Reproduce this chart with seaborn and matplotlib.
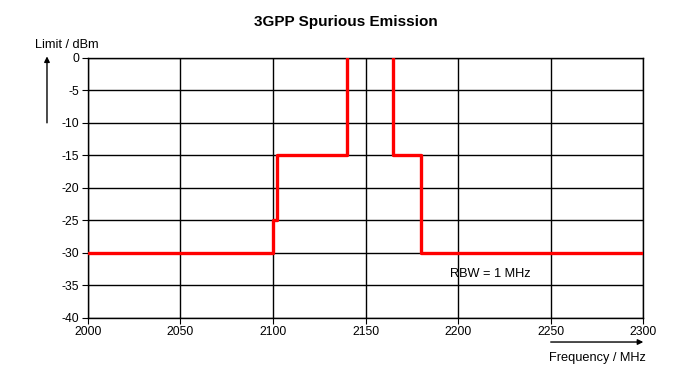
import pandas as pd
import matplotlib.pyplot as plt
import seaborn as sns

# Spectrum mask data (limit in dBm vs frequency in MHz)
freq_low = [2000, 2100, 2100, 2102, 2102, 2140, 2140]
limit_low = [-30, -30, -25, -25, -15, -15, 0]
freq_high = [2165, 2165, 2180, 2180, 2300]
limit_high = [0, -15, -15, -30, -30]

x_ticks = [2000, 2050, 2100, 2150, 2200, 2250, 2300]
y_ticks = [0, -5, -10, -15, -20, -25, -30, -35, -40]

df = pd.concat([
    pd.DataFrame({'freq': freq_low, 'limit': limit_low, 'seg': 'low'}),
    pd.DataFrame({'freq': freq_high, 'limit': limit_high, 'seg': 'high'}),
])

sns.set_style('white')
plt.rcParams['font.family'] = ['Liberation Sans', 'DejaVu Sans']
plt.rcParams['axes.unicode_minus'] = False
plt.rcParams['text.color'] = 'black'
plt.rcParams['xtick.color'] = 'black'
plt.rcParams['ytick.color'] = 'black'
plt.rcParams['xtick.labelcolor'] = 'black'
plt.rcParams['ytick.labelcolor'] = 'black'

fig = plt.figure(figsize=(6.91, 3.83), dpi=100)
ax = fig.add_axes([0.127, 0.170, 0.804, 0.679])

sns.lineplot(data=df, x='freq', y='limit', units='seg', estimator=None, sort=False,
             color='#ff0000', linewidth=2.4, ax=ax, zorder=3)

ax.set_xlim(2000, 2300)
ax.set_ylim(-40, 0)
ax.set_xticks(x_ticks)
ax.set_yticks(y_ticks)
ax.set_yticklabels([str(v) for v in y_ticks])
ax.grid(True, color='black', linewidth=1.0)
for s in ax.spines.values():
    s.set_color('black')
    s.set_linewidth(1.0)
ax.tick_params(axis='both', labelsize=8.7, length=4, color='black', labelcolor='black',
               direction='out', pad=2)
ax.tick_params(axis='y', left=True)
ax.tick_params(axis='x', bottom=True)
ax.set_xlabel('')
ax.set_ylabel('')

ax.text(2195.5, -33.2, 'RBW = 1 MHz', fontsize=9.2, va='center', ha='left', color='black')

fig.text(0.5, 0.943, '3GPP Spurious Emission', fontsize=11, fontweight='bold', ha='center', va='center')
fig.text(0.096, 0.883, 'Limit / dBm', fontsize=9.2, ha='center', va='center')
fig.text(0.864, 0.065, 'Frequency / MHz', fontsize=9.2, ha='center', va='center')

# axis arrows
fig.add_artist(plt.Annotation('', xy=(0.068, 0.86), xytext=(0.068, 0.672),
                              xycoords='figure fraction',
                              arrowprops=dict(arrowstyle='-|>', color='black', lw=1, mutation_scale=8)))
fig.add_artist(plt.Annotation('', xy=(0.935, 0.107), xytext=(0.793, 0.107),
                              xycoords='figure fraction',
                              arrowprops=dict(arrowstyle='-|>', color='black', lw=1, mutation_scale=8)))

fig.savefig('out.png', dpi=100)
